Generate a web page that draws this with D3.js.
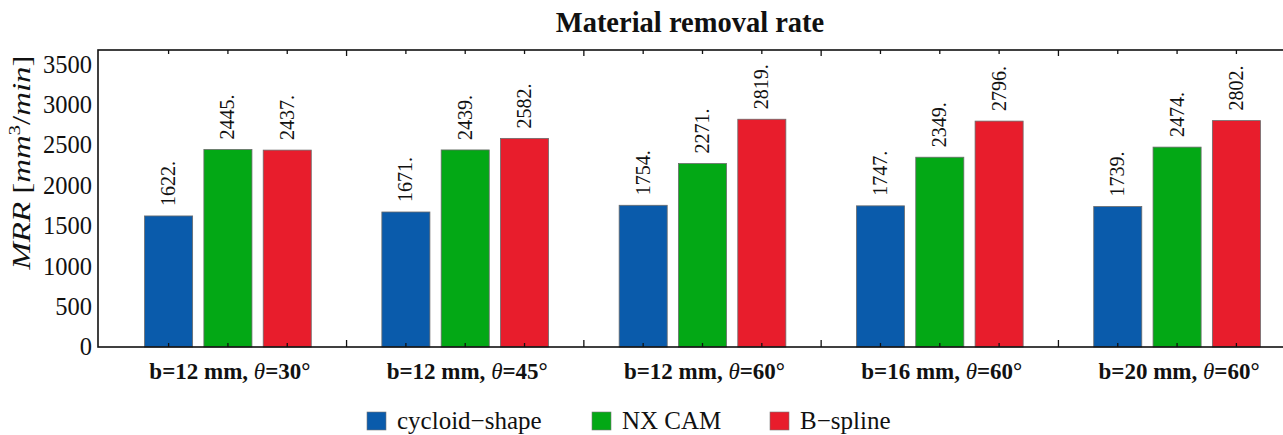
<!DOCTYPE html>
<html>
<head>
<meta charset="utf-8">
<script src="https://cdn.jsdelivr.net/npm/d3@7"></script>
<style>
  html, body { margin: 0; padding: 0; background: #fff; }
  svg text { font-family: "Liberation Serif", "Times New Roman", serif !important; }
</style>
</head>
<body>
<svg id="chart" width="1283" height="435"></svg>
<script>
// ---- data ----
const categories = ["b=12 mm, θ=30°", "b=12 mm, θ=45°", "b=12 mm, θ=60°", "b=16 mm, θ=60°", "b=20 mm, θ=60°"];
const seriesNames = ["cycloid\u2212shape", "NX CAM", "B\u2212spline"];
const cycloidShape = [1622, 1671, 1754, 1747, 1739];
const nxCam = [2445, 2439, 2271, 2349, 2474];
const bSpline = [2437, 2582, 2819, 2796, 2802];
const yTicks = [0, 500, 1000, 1500, 2000, 2500, 3000, 3500];
const colors = ["#0a5bab", "#03a815", "#e81d2c"];

const seriesValues = [cycloidShape, nxCam, bSpline];

const svg = d3.select("#chart");

const frame = { left: 98, right: 1307, top: 50, bottom: 347 };

const x = d3.scaleLinear().domain([-1.19, 19.19]).range([frame.left, frame.right]);
const y = d3.scaleLinear().domain([0, 3676]).range([frame.bottom, frame.top]);
const barW = x(0.81) - x(0);

// bars
const bars = [];
categories.forEach((c, g) => {
  seriesValues.forEach((vals, s) => {
    bars.push({ g, s, v: vals[g], u: g * 4 + s });
  });
});

svg.append("g").selectAll("rect").data(bars).join("rect")
  .attr("x", d => x(d.u) - barW / 2)
  .attr("width", barW)
  .attr("y", d => y(d.v))
  .attr("height", d => y(0) - y(d.v))
  .attr("fill", d => colors[d.s])
  .attr("stroke", "#6b6b6b")
  .attr("stroke-width", 0.8);

// value labels
svg.append("g").selectAll("text").data(bars).join("text")
  .attr("transform", d => `translate(${x(d.u) + 6.5},${y(d.v) - 10}) rotate(-90)`)
  .attr("text-anchor", "start")
  .attr("font-size", 20)
  .attr("fill", "#111")
  .text(d => d.v + ".");

// frame
svg.append("rect")
  .attr("x", frame.left).attr("y", frame.top)
  .attr("width", frame.right - frame.left).attr("height", frame.bottom - frame.top)
  .attr("fill", "none").attr("stroke", "#111").attr("stroke-width", 1.6);

// ticks on top and bottom
const centerTicks = bars.map(d => d.u);
const boundaryTicks = [3, 7, 11, 15];
const tickG = svg.append("g").attr("stroke", "#111").attr("stroke-width", 1.3);
centerTicks.forEach(u => {
  tickG.append("line").attr("x1", x(u)).attr("x2", x(u)).attr("y1", frame.bottom).attr("y2", frame.bottom - 4);
  tickG.append("line").attr("x1", x(u)).attr("x2", x(u)).attr("y1", frame.top).attr("y2", frame.top + 4);
});
boundaryTicks.forEach(u => {
  tickG.append("line").attr("x1", x(u)).attr("x2", x(u)).attr("y1", frame.bottom).attr("y2", frame.bottom - 7);
  tickG.append("line").attr("x1", x(u)).attr("x2", x(u)).attr("y1", frame.top).attr("y2", frame.top + 6);
});

// y axis labels
const yAxis = d3.axisLeft(y).tickValues(yTicks).tickFormat(d3.format("d")).tickSize(0).tickPadding(6);
const yg = svg.append("g").attr("transform", `translate(${frame.left},0)`).call(yAxis);
yg.attr("font-family", null).attr("font-size", null);
yg.select(".domain").remove();
yg.selectAll("text")
  .attr("font-size", 24.5)
  .attr("fill", "#111");

// y axis title
const yt = svg.append("text")
  .attr("transform", "translate(30,162.5) rotate(-90)")
  .attr("text-anchor", "middle")
  .attr("font-size", 25)
  .attr("textLength", 214)
  .attr("lengthAdjust", "spacingAndGlyphs")
  .attr("fill", "#111");
yt.append("tspan").attr("font-style", "italic").text("MRR");
yt.append("tspan").text(" [");
yt.append("tspan").attr("font-style", "italic").text("mm");
yt.append("tspan").attr("font-size", 16).attr("dy", -10).text("3");
yt.append("tspan").attr("dy", 10).text("/");
yt.append("tspan").attr("font-style", "italic").text("min");
yt.append("tspan").text("]");

// x category labels
categories.forEach((c, g) => {
  const parts = c.split("θ");
  const t = svg.append("text")
    .attr("x", x(g * 4 + 1) + 2)
    .attr("y", 379)
    .attr("text-anchor", "middle")
    .attr("font-size", 23)
    .attr("font-weight", "bold")
    .attr("fill", "#111");
  t.append("tspan").text(parts[0]);
  t.append("tspan").attr("font-style", "italic").attr("font-weight", "normal").text("θ");
  t.append("tspan").text(parts[1]);
});

// title
svg.append("text")
  .attr("x", 690).attr("y", 32)
  .attr("text-anchor", "middle")
  .attr("font-size", 28.5)
  .attr("font-weight", "bold")
  .attr("fill", "#111")
  .text("Material removal rate");

// legend
const legendX = [367, 592, 770];
const lg = svg.append("g");
seriesNames.forEach((name, i) => {
  lg.append("rect")
    .attr("x", legendX[i]).attr("y", 412)
    .attr("width", 19).attr("height", 18)
    .attr("fill", colors[i])
    .attr("stroke", "#777").attr("stroke-width", 0.6);
  lg.append("text")
    .attr("x", legendX[i] + 30).attr("y", 429)
    .attr("font-size", 25)
    .attr("fill", "#111")
    .text(name);
});
</script>
</body>
</html>
